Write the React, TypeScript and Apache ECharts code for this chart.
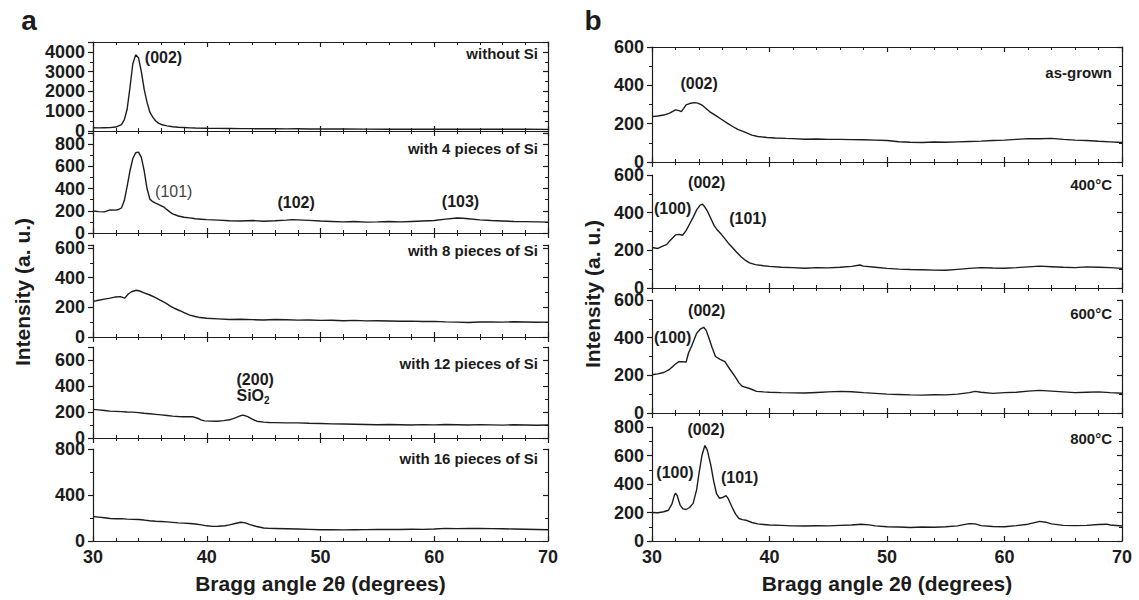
import React, { useEffect, useRef } from 'react';
import * as echarts from 'echarts';

const FONT = '"Liberation Sans", Arial, Helvetica, sans-serif';
const INK = '#1c1c1c';
const W = 1139;
const H = 600;

// ---------- data (Bragg angle 2θ, intensity) ----------
const A1_WITHOUT_SI = [
  [30, 165], [30.5, 160], [31, 168], [31.5, 172], [32, 200], [32.5, 320], [32.75, 560], [33, 1100],
  [33.25, 2200], [33.5, 3400], [33.75, 3850], [34, 3700], [34.25, 3000], [34.5, 2100], [34.75, 1450],
  [35, 950], [35.25, 700], [35.5, 520], [35.75, 400], [36, 330], [36.5, 260], [37, 215], [37.5, 190],
  [38, 175], [38.5, 160], [39, 150], [40, 140], [41, 132], [42, 128], [43, 120], [44, 118], [45, 112],
  [46, 110], [47, 108], [48, 110], [49, 104], [50, 100], [52, 98], [54, 95], [56, 92], [58, 95],
  [60, 90], [62, 92], [64, 88], [66, 86], [68, 85], [70, 82],
];
const A2_4_PIECES = [
  [30, 198], [30.5, 192], [31, 190], [31.5, 208], [32, 206], [32.25, 212], [32.5, 225], [32.75, 290],
  [33, 420], [33.25, 560], [33.5, 670], [33.75, 722], [34, 728], [34.25, 680], [34.5, 560], [34.75, 400],
  [35, 305], [35.25, 282], [35.5, 268], [35.75, 258], [36, 245], [36.25, 232], [36.5, 210], [36.75, 190],
  [37, 172], [37.5, 153], [38, 142], [38.5, 136], [39, 128], [39.5, 124], [40, 120], [41, 116], [42, 110],
  [43, 108], [44, 112], [45, 106], [46, 110], [47, 116], [47.5, 120], [48, 118], [49, 114], [50, 108],
  [51, 104], [52, 100], [53, 103], [54, 98], [55, 100], [56, 104], [57, 100], [58, 104], [59, 108],
  [60, 112], [61, 125], [62, 135], [62.5, 133], [63, 128], [64, 118], [65, 112], [66, 108], [67, 104],
  [68, 102], [69, 100], [70, 98],
];
const A3_8_PIECES = [
  [30, 240], [30.5, 248], [31, 255], [31.5, 262], [32, 270], [32.4, 272], [32.8, 262], [33.1, 290],
  [33.4, 305], [33.8, 315], [34.1, 310], [34.5, 298], [35, 283], [35.5, 265], [35.9, 249], [36.4, 228],
  [36.8, 208], [37.2, 192], [37.65, 177], [38, 165], [38.5, 147], [39, 138], [39.4, 131], [40, 126],
  [41, 122], [42, 118], [43, 120], [44, 117], [45, 115], [46, 118], [47, 116], [48, 114], [49, 115],
  [50, 112], [51, 113], [52, 110], [53, 112], [54, 109], [55, 110], [56, 108], [57, 106], [58, 107],
  [59, 104], [60, 105], [61, 102], [62, 100], [63, 98], [64, 101], [65, 102], [66, 100], [67, 103],
  [68, 101], [69, 99], [70, 100],
];
const A4_12_PIECES = [
  [30, 220], [30.5, 216], [31, 212], [31.5, 207], [32, 205], [32.5, 203], [33, 200], [33.5, 199],
  [34, 195], [34.5, 190], [35, 186], [35.5, 182], [36, 178], [36.5, 173], [37, 168], [37.5, 165],
  [38, 163], [38.5, 164], [38.8, 163], [39.2, 152], [39.5, 140], [39.8, 132], [40.3, 130], [40.9, 129],
  [41.5, 134], [42, 140], [42.5, 155], [43, 172], [43.2, 176], [43.6, 165], [44, 145], [44.4, 129],
  [45, 122], [45.5, 119], [46, 118], [47, 116], [48, 116], [49, 113], [50, 112], [51, 109], [52, 108],
  [53, 106], [54, 104], [55, 102], [56, 104], [57, 102], [58, 100], [59, 103], [60, 101], [61, 104],
  [62, 102], [63, 100], [64, 103], [65, 101], [66, 99], [67, 102], [68, 100], [69, 98], [70, 100],
];
const A5_16_PIECES = [
  [30, 213], [30.5, 208], [31, 202], [31.5, 196], [32, 193], [32.5, 195], [33, 190], [33.5, 188],
  [34, 187], [34.5, 182], [35, 176], [35.5, 172], [36, 169], [36.5, 166], [37, 162], [37.5, 158],
  [38, 155], [38.5, 152], [39, 148], [39.4, 142], [40, 132], [40.5, 127], [41, 128], [41.6, 133],
  [42, 140], [42.5, 152], [43, 163], [43.4, 158], [43.8, 142], [44.3, 128], [45, 113], [45.5, 110],
  [46, 109], [47, 107], [48, 104], [49, 101], [50, 98], [51, 99], [52, 97], [53, 98], [54, 99],
  [55, 100], [56, 101], [57, 100], [58, 102], [59, 101], [60, 104], [61, 110], [62, 108], [63, 109],
  [64, 110], [65, 108], [66, 106], [67, 104], [68, 102], [69, 100], [70, 98],
];
const B1_AS_GROWN = [
  [30, 237], [30.5, 240], [31, 245], [31.5, 255], [32, 272], [32.3, 268], [32.5, 263], [32.7, 280],
  [32.9, 298], [33.2, 305], [33.6, 310], [33.9, 307], [34.3, 295], [34.9, 263], [35.4, 243], [35.9, 223],
  [36.4, 203], [36.9, 184], [37.3, 170], [37.8, 158], [38.5, 140], [39, 133], [39.8, 128], [40.5, 125],
  [41.4, 123], [42, 122], [43, 119], [44, 120], [45, 118], [46, 118], [47, 117], [48, 116], [49, 114],
  [50, 112], [51, 106], [52, 103], [53, 102], [54, 104], [55, 103], [56, 105], [57, 107], [58, 109],
  [59, 112], [60, 114], [61, 118], [62, 122], [63, 121], [64, 123], [65, 118], [66, 114], [67, 112],
  [68, 108], [69, 105], [70, 102],
];
const B2_400C = [
  [30, 215], [30.5, 210], [31, 225], [31.25, 230], [31.5, 250], [32, 282], [32.3, 285], [32.6, 280],
  [32.9, 305], [33.2, 340], [33.5, 375], [33.8, 415], [34.1, 440], [34.3, 445], [34.5, 430], [34.7, 410],
  [35, 370], [35.3, 330], [35.6, 305], [35.9, 285], [36.2, 262], [36.5, 238], [36.8, 218], [37.2, 190],
  [37.6, 165], [38, 145], [38.3, 133], [38.8, 124], [39.5, 118], [40, 115], [41, 110], [42, 108],
  [43, 105], [44, 108], [45, 107], [46, 110], [47, 115], [47.7, 122], [48, 116], [49, 110], [50, 104],
  [51, 100], [52, 98], [53, 97], [54, 95], [55, 94], [56, 99], [57, 104], [58, 108], [59, 106],
  [60, 105], [61, 108], [62, 112], [63, 116], [64, 113], [65, 110], [66, 108], [67, 112], [68, 110],
  [69, 108], [70, 104],
];
const B3_600C = [
  [30, 203], [30.5, 208], [31, 215], [31.5, 232], [32, 260], [32.3, 273], [32.6, 272], [32.9, 270],
  [33.1, 317], [33.4, 360], [33.8, 423], [34.1, 445], [34.4, 455], [34.6, 440], [34.8, 406], [35.1, 350],
  [35.4, 300], [35.8, 285], [36.2, 273], [36.6, 235], [37.1, 190], [37.4, 160], [37.7, 141], [38.3, 130],
  [38.9, 115], [39.5, 112], [40, 110], [41, 108], [42, 107], [43, 106], [44, 109], [45, 112], [46, 115],
  [47, 113], [48, 108], [49, 104], [50, 100], [51, 98], [52, 96], [53, 95], [54, 97], [55, 96],
  [56, 100], [57, 108], [57.5, 115], [58, 110], [59, 104], [60, 108], [61, 110], [62, 116], [63, 120],
  [64, 116], [65, 112], [66, 108], [67, 110], [68, 112], [69, 108], [70, 105],
];
const B4_800C = [
  [30, 200], [30.5, 198], [31, 205], [31.4, 216], [31.7, 260], [31.9, 320], [32, 335], [32.15, 318],
  [32.4, 250], [32.65, 225], [32.9, 221], [33.2, 235], [33.5, 264], [33.8, 360], [34, 475], [34.25, 600],
  [34.5, 670], [34.7, 640], [35, 534], [35.25, 420], [35.5, 330], [35.75, 300], [36, 305], [36.3, 318],
  [36.5, 295], [36.8, 240], [37.1, 190], [37.4, 158], [37.7, 150], [38, 146], [38.5, 130], [39, 120],
  [39.5, 116], [40, 112], [41, 110], [42, 106], [43, 105], [44, 107], [45, 106], [46, 110], [47, 112],
  [47.8, 118], [48.5, 113], [49, 106], [50, 100], [51, 98], [52, 95], [53, 98], [54, 96], [55, 100],
  [56, 106], [57, 122], [57.5, 120], [58, 108], [59, 102], [60, 100], [61, 108], [62, 118], [63, 138],
  [63.5, 132], [64, 120], [65, 110], [66, 108], [67, 110], [68, 116], [68.7, 118], [69, 112], [70, 105],
];

// ---------- peak annotations (data coordinates) ----------
const ANN_A1 = [{ x: 34.6, y: 3700, text: '(002)', align: 'left' }];
const ANN_A2 = [
  { x: 35.5, y: 370, text: '(101)', align: 'left', plain: true },
  { x: 47.9, y: 270, text: '(102)', align: 'center' },
  { x: 62.35, y: 280, text: '(103)', align: 'center' },
];
const ANN_A4 = [
  { x: 42.66, y: 450, text: '(200)', align: 'left' },
  { x: 42.66, y: 322, text: '{m|SiO}{s|2}', align: 'left' },
];
const ANN_B1 = [{ x: 34.05, y: 405, text: '(002)', align: 'center' }];
const ANN_B2 = [
  { x: 34.7, y: 560, text: '(002)', align: 'center' },
  { x: 31.8, y: 418, text: '(100)', align: 'center' },
  { x: 38.2, y: 365, text: '(101)', align: 'center' },
];
const ANN_B3 = [
  { x: 34.7, y: 543, text: '(002)', align: 'center' },
  { x: 31.8, y: 400, text: '(100)', align: 'center' },
];
const ANN_B4 = [
  { x: 34.65, y: 781, text: '(002)', align: 'center' },
  { x: 32.0, y: 475, text: '(100)', align: 'center' },
  { x: 37.5, y: 440, text: '(101)', align: 'center' },
];

// ---------- layout ----------
const A_X = [93, 548];
const B_X = [652, 1122];

const PANELS = [
  { side: 'a', data: A1_WITHOUT_SI, top: 42, bottom: 131, max: 4500, interval: 1000, name: 'without Si', nameY: 53, ann: ANN_A1, last: false },
  { side: 'a', data: A2_4_PIECES, top: 133, bottom: 233, max: 900, interval: 200, name: 'with 4 pieces of Si', nameY: 148, ann: ANN_A2, last: false },
  { side: 'a', data: A3_8_PIECES, top: 245, bottom: 337, max: 620, interval: 200, name: 'with 8 pieces of Si', nameY: 250, ann: [], last: false },
  { side: 'a', data: A4_12_PIECES, top: 347, bottom: 438, max: 700, interval: 200, name: 'with 12 pieces of Si', nameY: 363, ann: ANN_A4, last: false },
  { side: 'a', data: A5_16_PIECES, top: 449, bottom: 541, max: 800, interval: 400, name: 'with 16 pieces of Si', nameY: 458, ann: [], last: true },
  { side: 'b', data: B1_AS_GROWN, top: 47, bottom: 162, max: 600, interval: 200, name: 'as-grown', nameY: 72, ann: ANN_B1, last: false },
  { side: 'b', data: B2_400C, top: 175, bottom: 288, max: 600, interval: 200, name: '400°C', nameY: 184, ann: ANN_B2, last: false },
  { side: 'b', data: B3_600C, top: 300, bottom: 413, max: 600, interval: 200, name: '600°C', nameY: 313, ann: ANN_B3, last: false },
  { side: 'b', data: B4_800C, top: 427, bottom: 541, max: 800, interval: 200, name: '800°C', nameY: 438, ann: ANN_B4, last: true },
];

function buildOption() {
  const grid: any[] = [];
  const xAxis: any[] = [];
  const yAxis: any[] = [];
  const series: any[] = [];
  const graphic: any[] = [];
  const lineStyle = { color: INK, width: 1.2 };

  PANELS.forEach((p, i) => {
    const L = p.side === 'a' ? A_X : B_X;
    grid.push({ left: L[0], right: W - L[1], top: p.top, height: p.bottom - p.top, containLabel: false });
    const prev = i > 0 && PANELS[i - 1].side === p.side ? PANELS[i - 1] : null;

    const xBase = {
      type: 'value', gridIndex: i, min: 30, max: 70, interval: 10,
      axisLine: { show: true, onZero: false, lineStyle },
      axisTick: { show: true, inside: true, length: 5, lineStyle },
      minorTick: { show: true, splitNumber: 5, length: 3, lineStyle: { color: INK, width: 1 } },
      splitLine: { show: false }, minorSplitLine: { show: false },
    };
    xAxis.push({
      ...xBase, position: 'bottom',
      axisLabel: { show: p.last, margin: 7, fontSize: 18, fontWeight: 'bold', color: INK, fontFamily: FONT },
    });
    xAxis.push({ ...xBase, position: 'top', offset: prev ? p.top - prev.bottom : 0, axisLabel: { show: false } });

    const onGrid = p.max % p.interval === 0;
    const yBase = {
      type: 'value', gridIndex: i, min: 0, max: p.max, interval: p.interval,
      axisLine: { show: true, onZero: false, lineStyle },
      splitLine: { show: false }, minorSplitLine: { show: false },
    };
    yAxis.push({
      ...yBase, position: 'left',
      axisTick: { show: true, inside: false, length: 5, lineStyle },
      minorTick: { show: true, splitNumber: 2, length: 3, lineStyle: { color: INK, width: 1 } },
      axisLabel: {
        show: true, margin: 8, fontSize: 18, lineHeight: 13, fontWeight: 'bold', color: INK, fontFamily: FONT,
        showMaxLabel: onGrid ? true : false,
        formatter: (v: number) => (v % p.interval === 0 ? String(v) : ''),
      },
    });
    yAxis.push({
      ...yBase, position: 'right',
      axisTick: { show: true, inside: true, length: 5, lineStyle },
      minorTick: { show: true, splitNumber: 2, length: 3, lineStyle: { color: INK, width: 1 } },
      axisLabel: { show: false },
    });

    series.push({
      type: 'line',
      xAxisIndex: 2 * i,
      yAxisIndex: 2 * i,
      data: p.data,
      showSymbol: false,
      symbol: 'none',
      lineStyle: { color: INK, width: 1.4 },
      silent: true,
      markPoint: {
        symbol: 'circle',
        symbolSize: 1,
        silent: true,
        itemStyle: { color: 'rgba(0,0,0,0)' },
        data: p.ann.map((a: any) => ({
          coord: [a.x, a.y],
          label: {
            show: true,
            position: [0, 0],
            formatter: a.text,
            align: a.align,
            verticalAlign: 'middle',
            fontSize: 16,
            fontWeight: a.plain ? 'normal' : 'bold',
            color: a.plain ? '#444' : INK,
            fontFamily: FONT,
            rich: {
              m: { fontSize: 16, fontWeight: 'bold', color: INK, fontFamily: FONT },
              s: { fontSize: 10, fontWeight: 'bold', color: INK, fontFamily: FONT, padding: [9, 0, 0, 0] },
            },
          },
        })),
      },
    });

    graphic.push({
      type: 'text', x: L[1] - 10, y: p.nameY,
      style: { text: p.name, fill: INK, align: 'right', verticalAlign: 'middle', textAlign: 'right', textVerticalAlign: 'middle', font: `bold 15px ${FONT}` },
    });
  });

  const big = (text: string, x: number, y: number, size: number, rotation = 0) => ({
    type: 'text', x, y, rotation,
    style: { text, fill: INK, align: 'center', verticalAlign: 'middle', textAlign: 'center', textVerticalAlign: 'middle', font: `bold ${size}px ${FONT}` },
  });
  graphic.push(big('a', 29, 20, 28));
  graphic.push(big('b', 593, 20, 28));
  graphic.push(big('Bragg angle 2θ (degrees)', (A_X[0] + A_X[1]) / 2, 583, 21));
  graphic.push(big('Bragg angle 2θ (degrees)', (B_X[0] + B_X[1]) / 2, 583, 21));
  graphic.push(big('Intensity (a. u.)', 22, 292, 21, Math.PI / 2));
  graphic.push(big('Intensity (a. u.)', 592, 294, 21, Math.PI / 2));

  return {
    animation: false,
    backgroundColor: '#ffffff',
    grid, xAxis, yAxis, series, graphic,
  };
}

export default function App() {
  const ref = useRef<HTMLDivElement>(null);
  useEffect(() => {
    if (!ref.current) return;
    const chart = echarts.init(ref.current, null, { renderer: 'svg' });
    chart.setOption(buildOption() as any);
    return () => chart.dispose();
  }, []);
  return (
    <div
      ref={ref}
      style={{ position: 'fixed', left: 0, top: 0, width: W, height: H, background: '#fff' }}
    />
  );
}
